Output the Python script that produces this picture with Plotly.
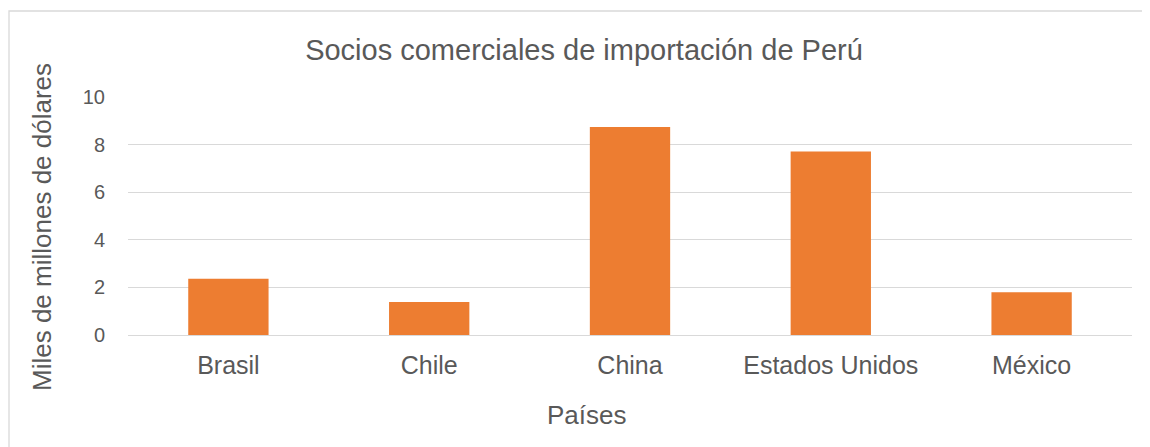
import plotly.graph_objects as go

paises = ["Brasil", "Chile", "China", "Estados Unidos", "México"]
importaciones = [2.36, 1.39, 8.74, 7.71, 1.80]
y_ticks = [0, 2, 4, 6, 8, 10]

titulo = "Socios comerciales de importación de Perú"
titulo_x = "Países"
titulo_y = "Miles de millones de dólares"

GRAY = "#595959"
GRID = "#D9D9D9"
FONT = "Liberation Sans, Arial, sans-serif"

# The page body adds an 8px offset; work in reference-pixel coordinates.
OFF = 8
W, H = 1150 - OFF, 447 - OFF
PL, PR, PT, PB = 128, 1132, 97, 335  # plot area in reference pixels
L = PL - OFF
R = W - (PR - OFF)
T = PT - OFF
B = H - (PB - OFF)
pw = PR - PL
ph = PB - PT


def px_x(x):
    return (x - PL) / pw


def px_y(y):
    return (PB - y) / ph


fig = go.Figure(
    go.Bar(
        x=paises,
        y=importaciones,
        marker=dict(color="#ED7D31", line=dict(width=0)),
        width=0.4,
    )
)

fig.update_layout(
    width=W,
    height=H,
    margin=dict(l=L, r=R, t=T, b=B, pad=0),
    paper_bgcolor="white",
    plot_bgcolor="white",
    showlegend=False,
    font=dict(family=FONT, color=GRAY),
    title=dict(
        text=titulo,
        font=dict(size=29, color=GRAY, family=FONT),
        x=(584 - OFF) / W,
        xanchor="center",
        y=1 - (50 - OFF) / H,
        yanchor="middle",
    ),
    bargap=0.6,
)

fig.update_yaxes(
    range=[0, 10],
    tickvals=y_ticks,
    showgrid=True,
    gridcolor=GRID,
    gridwidth=1.3,
    zeroline=False,
    showline=False,
    tickfont=dict(size=20, color=GRAY),
    ticklabelstandoff=22,
    fixedrange=True,
)
fig.update_xaxes(
    showline=True,
    linecolor=GRID,
    linewidth=1.3,
    tickfont=dict(size=25, color=GRAY),
    ticklabelstandoff=8,
    fixedrange=True,
)

fig.add_annotation(
    text=titulo_x,
    xref="paper", yref="paper",
    x=px_x(587), y=px_y(415),
    xanchor="center", yanchor="middle",
    showarrow=False,
    font=dict(size=26, color=GRAY, family=FONT),
)
fig.add_annotation(
    text=titulo_y,
    xref="paper", yref="paper",
    x=px_x(42), y=px_y(227),
    xanchor="center", yanchor="middle",
    textangle=-90,
    showarrow=False,
    font=dict(size=26, color=GRAY, family=FONT),
)

# chart area border
fig.add_shape(
    type="rect",
    xref="paper", yref="paper",
    x0=px_x(9), x1=px_x(1160),
    y0=px_y(460), y1=px_y(11),
    line=dict(color=GRID, width=1.3),
    fillcolor="rgba(0,0,0,0)",
    layer="below",
)

fig.write_html("out.html")
